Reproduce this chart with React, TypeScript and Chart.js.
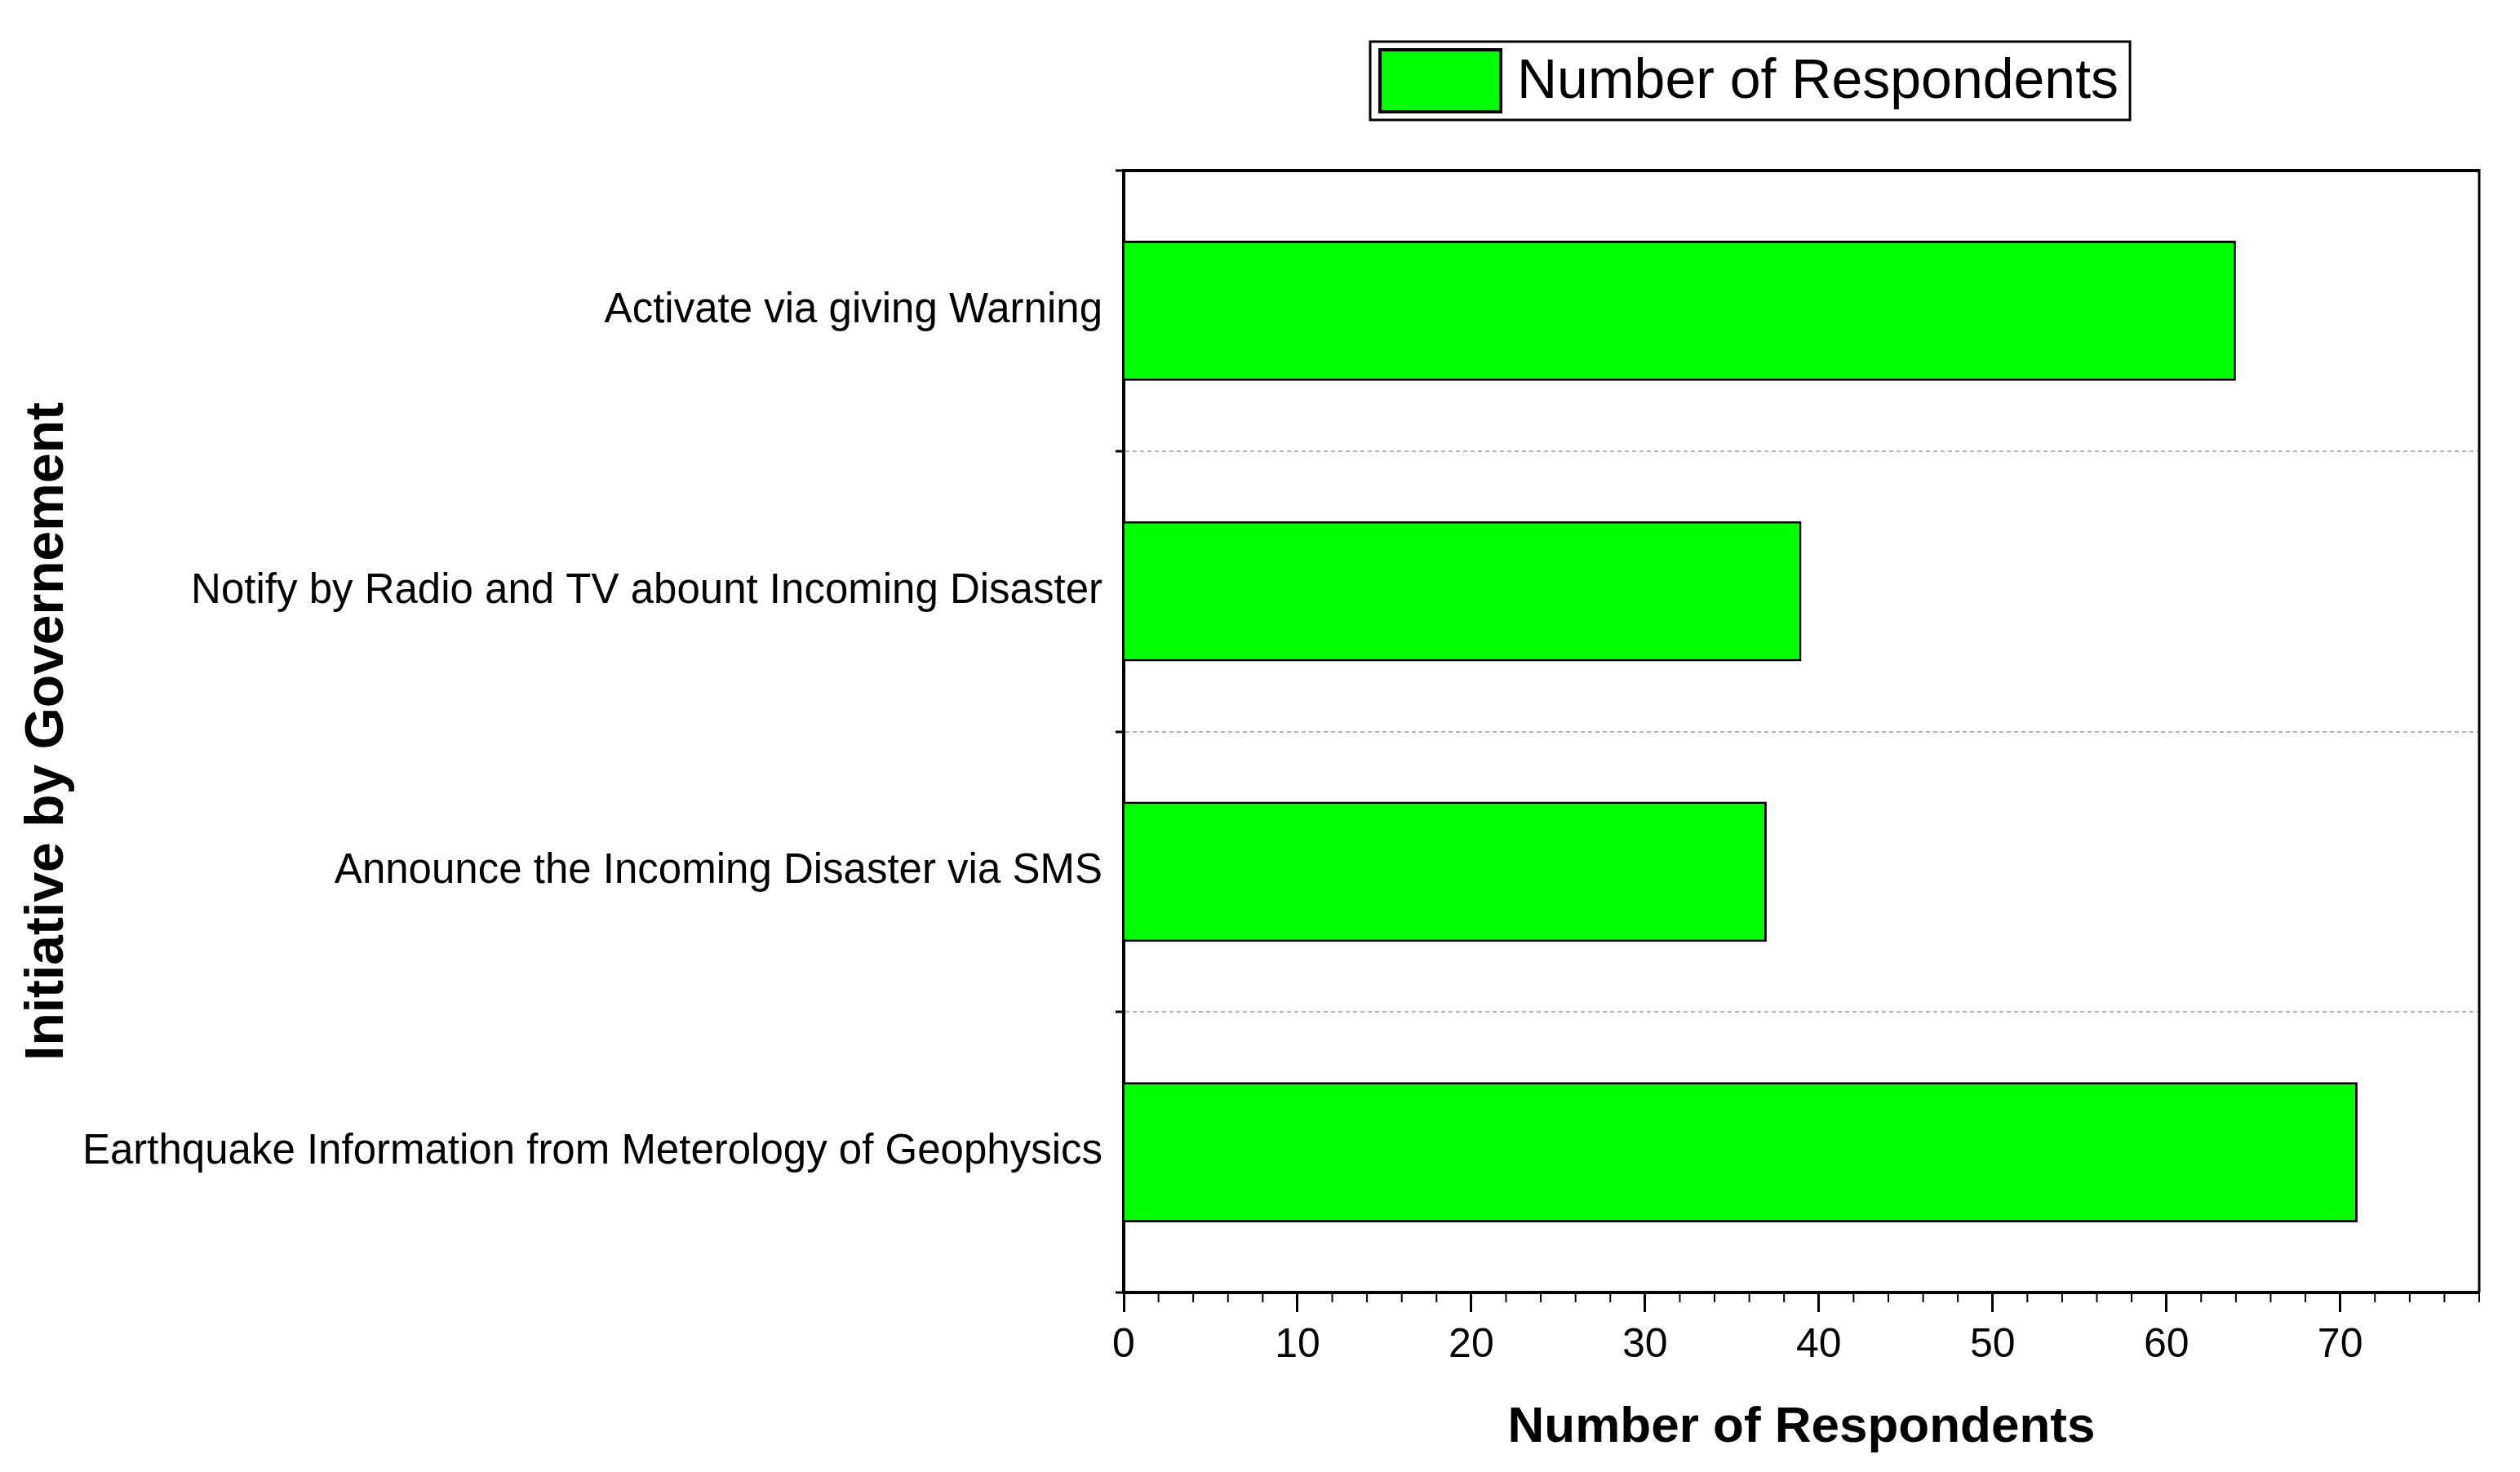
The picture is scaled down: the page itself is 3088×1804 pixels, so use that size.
import { useEffect, useRef } from 'react';
import { Chart, registerables } from 'chart.js';

Chart.register(...registerables);

// data
const initiatives = [
  'Activate via giving Warning',
  'Notify by Radio and TV abount Incoming Disaster',
  'Announce the Incoming Disaster via SMS',
  'Earthquake Information from Meterology of Geophysics',
];
const respondents = [64, 39, 37, 71];
const seriesLabel = 'Number of Respondents';
const xTitle = 'Number of Respondents';
const yTitle = 'Initiative by Governement';
const xMin = 0;
const xMax = 78;
const majorStep = 10;
const minorStep = 2;

const W = 3088;
const H = 1804;
const FONT = '"Liberation Sans", Arial, sans-serif';
const GREEN = '#00ff00';

// top + right edges of the plot box, and the short minor ticks on x
const framePlugin = {
  id: 'frame',
  afterDraw(chart: Chart) {
    const { ctx, chartArea: a } = chart;
    const x = chart.scales.x;
    ctx.save();
    ctx.strokeStyle = '#000';
    ctx.lineWidth = 4;
    ctx.beginPath();
    ctx.moveTo(a.left - 2, a.top);
    ctx.lineTo(a.right, a.top);
    ctx.stroke();
    ctx.lineWidth = 3;
    ctx.beginPath();
    ctx.moveTo(a.right, a.top - 2);
    ctx.lineTo(a.right, a.bottom);
    ctx.stroke();
    ctx.lineWidth = 2;
    for (let v = xMin + minorStep; v <= xMax; v += minorStep) {
      if (v % majorStep === 0) continue;
      const px = x.getPixelForValue(v);
      ctx.beginPath();
      ctx.moveTo(px, a.bottom);
      ctx.lineTo(px, a.bottom + 12);
      ctx.stroke();
    }
    ctx.restore();
  },
};

// boxed legend above the plot
const legendPlugin = {
  id: 'boxLegend',
  afterDraw(chart: Chart) {
    const { ctx } = chart;
    const ds = chart.data.datasets[0];
    const left = 1679, top = 51, h = 96;
    ctx.save();
    ctx.font = `68px ${FONT}`;
    const text = String(ds.label);
    const tw = ctx.measureText(text).width;
    const textX = left + 180;
    ctx.strokeStyle = '#000';
    ctx.lineWidth = 3;
    ctx.strokeRect(left, top, textX + tw + 14 - left, h);
    ctx.fillStyle = GREEN;
    ctx.fillRect(left + 12, top + 10, 148, 76);
    ctx.lineWidth = 4;
    ctx.strokeRect(left + 12, top + 10, 148, 76);
    ctx.fillStyle = '#000';
    ctx.textBaseline = 'middle';
    ctx.fillText(text, textX, top + h / 2 + 2);
    ctx.restore();
  },
};

export default function App() {
  const canvasRef = useRef<HTMLCanvasElement>(null);
  const chart = useRef<Chart | null>(null);

  useEffect(() => {
    document.body.style.margin = '0';
    if (!canvasRef.current) return;
    chart.current?.destroy();
    chart.current = new Chart(canvasRef.current, {
      type: 'bar',
      data: {
        labels: initiatives,
        datasets: [{
          label: seriesLabel,
          data: respondents,
          backgroundColor: GREEN,
          borderColor: '#000',
          borderWidth: 3,
          barPercentage: 0.5,
          categoryPercentage: 1,
        }],
      },
      options: {
        indexAxis: 'y',
        responsive: false,
        animation: false,
        devicePixelRatio: 1,
        layout: { padding: { top: 209, right: 50, left: 0, bottom: 0 } },
        plugins: {
          legend: { display: false },
          tooltip: { enabled: false },
        },
        scales: {
          x: {
            type: 'linear',
            min: xMin,
            max: xMax,
            afterFit: s => { s.height = H - 1584; },
            afterBuildTicks: s => { s.ticks = s.ticks.filter(t => t.value % majorStep === 0); },
            ticks: { stepSize: majorStep, color: '#000', font: { family: FONT, size: 50 }, padding: 11 },
            grid: { drawOnChartArea: false, tickLength: 24, tickWidth: 3, tickColor: '#000' },
            border: { color: '#000', width: 4 },
            title: {
              display: true, text: xTitle, color: '#000',
              font: { family: FONT, size: 62, weight: 'bold' },
              padding: { top: 0, bottom: 17 },
            },
          },
          y: {
            type: 'category',
            afterFit: s => { s.width = 1377; },
            ticks: { color: '#000', font: { family: FONT, size: 51 }, padding: 16 },
            grid: { color: '#b4b4b4', lineWidth: 2, offset: true, tickLength: 10, tickWidth: 3, tickColor: '#000' },
            border: { color: '#000', width: 4, dash: [5, 4] },
            title: {
              display: true, text: yTitle, color: '#000',
              font: { family: FONT, size: 66, weight: 'bold' },
              padding: { top: 19, bottom: 0 },
            },
          },
        },
      },
      plugins: [framePlugin, legendPlugin],
    });
    return () => { chart.current?.destroy(); };
  }, []);

  return (
    <div style={{ width: W, height: H, background: '#fff' }}>
      <canvas ref={canvasRef} width={W} height={H} style={{ width: W, height: H }} />
    </div>
  );
}
